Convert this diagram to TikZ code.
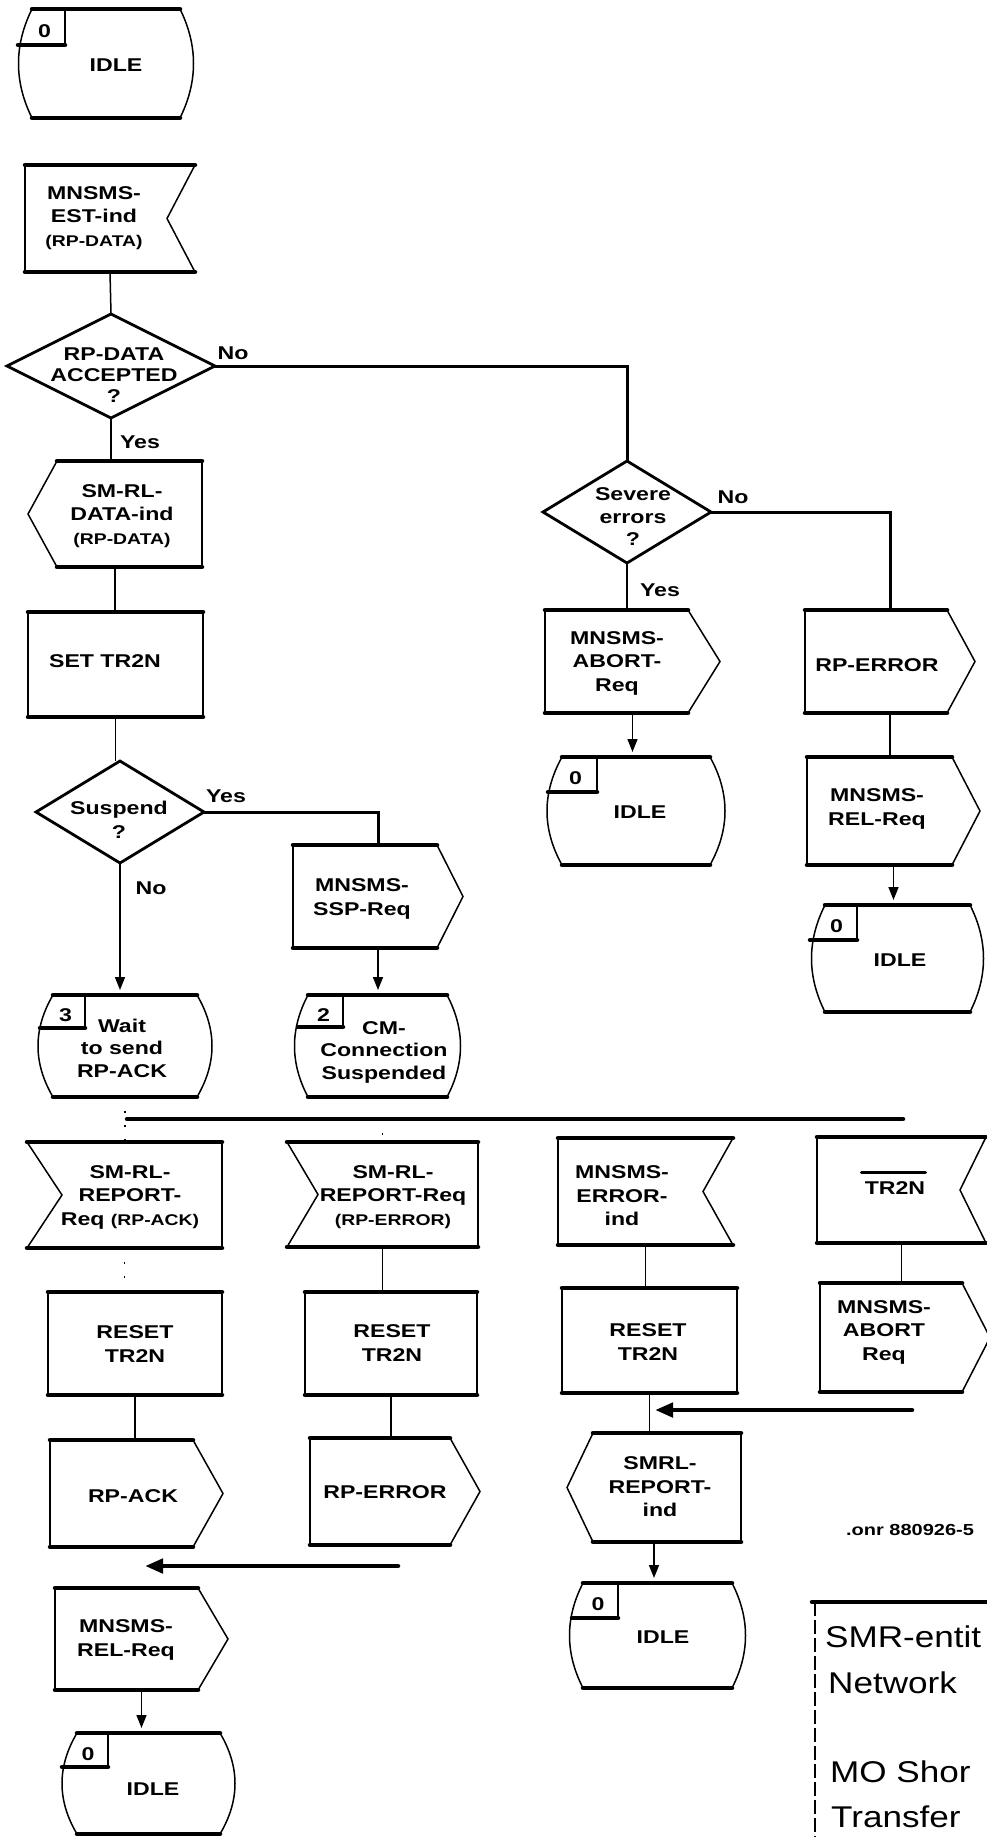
\documentclass[tikz,border=0pt]{standalone}
\usepackage{fontspec}
\usetikzlibrary{arrows.meta}
\newfontfamily\lf[FakeStretch=1.25]{Liberation Sans}
\newfontfamily\tf[FakeStretch=1.17]{Liberation Sans}
\newcommand\smtxt{\fontsize{15.5}{20}\selectfont}
\tikzset{
  edge/.style={line width=4.5pt, line cap=round},
  side/.style={line width=1.5pt},
  conn/.style={line width=1.5pt},
  flow/.style={line width=4.5pt, line cap=round},
  flowb/.style={line width=3pt},
  dotsline/.style={line width=1.5pt, dash pattern=on 2pt off 12pt},
  dia/.style={line width=2.8pt, line join=miter},
  arr/.style={-{Triangle[length=13pt,width=10pt]}, shorten >=5pt},
  bigarr/.style={-{Triangle[length=18pt,width=14pt]}},
  lbl/.style={font=\lf\bfseries\fontsize{18.5}{23.5}\selectfont, align=center, inner sep=0pt},
  ttl/.style={font=\tf\fontsize{30}{38}\selectfont, anchor=base west, inner sep=0pt},
}
% state symbol: name xl xr yt yb bulge
\newcommand\StateSym[6]{%
  \draw[side] (#2,#4) .. controls ({#2-#6},{#4+(#5-#4)/3}) and ({#2-#6},{#5-(#5-#4)/3}) .. (#2,#5);
  \draw[side] (#3,#4) .. controls ({#3+#6},{#4+(#5-#4)/3}) and ({#3+#6},{#5-(#5-#4)/3}) .. (#3,#5);
  \draw[edge] (#2,#4) -- (#3,#4);
  \draw[edge] (#2,#5) -- (#3,#5);
  \coordinate (#1-t) at ({(#2+#3)/2},#4);
  \coordinate (#1-b) at ({(#2+#3)/2},#5);}
% number box: name xs xb yt yline num
\newcommand\NumBox[6]{%
  \draw[edge] (#2,#5) -- (#3,#5);
  \draw[side] (#3,#4) -- (#3,#5);
  \node[lbl] (#1) at ({(#2+#3)/2+3},{(#4+#5)/2+4}) {#6};}
% task: name xl xr yt yb
\newcommand\TaskSym[5]{%
  \draw[side] (#2,#4) -- (#2,#5) (#3,#4) -- (#3,#5);
  \draw[edge] (#2,#4) -- (#3,#4) (#2,#5) -- (#3,#5);
  \coordinate (#1-t) at ({(#2+#3)/2},#4);
  \coordinate (#1-b) at ({(#2+#3)/2},#5);}
% output pointing right: name xl xr xp yt yb
\newcommand\OutR[6]{%
  \draw[side] (#2,#5) -- (#2,#6);
  \draw[side] (#3,#5) -- (#4,{(#5+#6)/2}) -- (#3,#6);
  \draw[edge] (#2,#5) -- (#3,#5) (#2,#6) -- (#3,#6);
  \coordinate (#1-t) at ({(#2+#4)/2},#5);
  \coordinate (#1-b) at ({(#2+#4)/2},#6);}
% output pointing left: name xp xl xr yt yb
\newcommand\OutL[6]{%
  \draw[side] (#4,#5) -- (#4,#6);
  \draw[side] (#3,#5) -- (#2,{(#5+#6)/2}) -- (#3,#6);
  \draw[edge] (#3,#5) -- (#4,#5) (#3,#6) -- (#4,#6);
  \coordinate (#1-t) at ({(#2+#4)/2},#5);
  \coordinate (#1-b) at ({(#2+#4)/2},#6);}
% input, notch on right: name xl xn xr yt yb
\newcommand\InR[6]{%
  \draw[side] (#2,#5) -- (#2,#6);
  \draw[side] (#4,#5) -- (#3,{(#5+#6)/2}) -- (#4,#6);
  \draw[edge] (#2,#5) -- (#4,#5) (#2,#6) -- (#4,#6);
  \coordinate (#1-t) at ({(#2+#4)/2},#5);
  \coordinate (#1-b) at ({(#2+#4)/2},#6);}
% input, notch on left: name xl xn xr yt yb
\newcommand\InL[6]{%
  \draw[side] (#4,#5) -- (#4,#6);
  \draw[side] (#2,#5) -- (#3,{(#5+#6)/2}) -- (#2,#6);
  \draw[edge] (#2,#5) -- (#4,#5) (#2,#6) -- (#4,#6);
  \coordinate (#1-t) at ({(#2+#4)/2},#5);
  \coordinate (#1-b) at ({(#2+#4)/2},#6);}
% decision: name cx cy hw hh
\newcommand\Dia[5]{%
  \draw[dia] ({#2-#4},#3) -- (#2,{#3-#5}) -- ({#2+#4},#3) -- (#2,{#3+#5}) -- cycle;
  \coordinate (#1-t) at (#2,{#3-#5});
  \coordinate (#1-b) at (#2,{#3+#5});
  \coordinate (#1-l) at ({#2-#4},#3);
  \coordinate (#1-r) at ({#2+#4},#3);}

\begin{document}
\begin{tikzpicture}[x=1pt,y=-1pt]
\fill[white] (0,0) rectangle (987,1837);
\useasboundingbox (0,0) rectangle (987,1837);
\clip (0,0) rectangle (987,1837);

% ---------- column 1 top ----------
\StateSym{s0}{32}{180}{9}{118}{18}
\NumBox{n-s0}{18}{65}{9}{45}{0}
\node[lbl] (t-s0) at (116,65) {IDLE};

\InR{est}{25}{167}{195}{165}{272}
\node[lbl] (t-est) at (94,218) {MNSMS-\\EST-ind\\{\smtxt (RP-DATA)}};

\Dia{d1}{111}{366}{104}{52}
\node[lbl, font=\lf\bfseries\fontsize{18.5}{21}\selectfont] (t-d1) at (114,375) {RP-DATA\\ACCEPTED\\?};
\node[lbl] (l-no1) at (233,353) {No};
\node[lbl] (l-yes1) at (140,442) {Yes};

\OutL{data}{28}{57}{202}{461}{567}
\node[lbl] (t-data) at (122,516) {SM-RL-\\DATA-ind\\{\smtxt (RP-DATA)}};

\TaskSym{set}{28}{203}{612}{717}
\node[lbl] (t-set) at (105,661) {SET TR2N};

\Dia{d2}{120}{812}{84}{51}
\node[lbl, font=\lf\bfseries\fontsize{18.5}{24}\selectfont] (t-d2) at (119,820) {Suspend\\?};
\node[lbl] (l-yes2) at (226,796) {Yes};
\node[lbl] (l-no2) at (151,888) {No};

\OutR{ssp}{293}{437}{463}{845}{948}
\node[lbl] (t-ssp) at (362,899) {MNSMS-\\SSP-Req};

\StateSym{s2}{308}{447}{995}{1097}{18}
\NumBox{n-s2}{298}{343}{995}{1027}{2}
\node[lbl, font=\lf\bfseries\fontsize{18.5}{22.5}\selectfont] (t-s2) at (384,1052) {CM-\\Connection\\Suspended};

\StateSym{s3}{53}{197}{995}{1097}{20}
\NumBox{n-s3}{40}{85}{995}{1028}{3}
\node[lbl, font=\lf\bfseries\fontsize{18.5}{22.5}\selectfont] (t-s3) at (122,1048) {Wait\\to send\\RP-ACK};

% ---------- column 3/4 top ----------
\Dia{d3}{627}{512}{84}{51}
\node[lbl, font=\lf\bfseries\fontsize{18.5}{22.5}\selectfont] (t-d3) at (633,517) {Severe\\errors\\?};
\node[lbl] (l-no3) at (733,497) {No};
\node[lbl] (l-yes3) at (660,590) {Yes};

\OutR{ab1}{545}{688}{720}{610}{713}
\node[lbl] (t-ab1) at (617,663) {MNSMS-\\ABORT-\\Req};

\OutR{err1}{805}{947}{975}{610}{713}
\node[lbl] (t-err1) at (877,665) {RP-ERROR};

\StateSym{sm}{562}{710}{757}{865}{20}
\NumBox{n-sm}{548}{597}{757}{792}{0}
\node[lbl] (t-sm) at (640,812) {IDLE};

\OutR{rel2}{807}{952}{980}{757}{865}
\node[lbl] (t-rel2) at (877,809) {MNSMS-\\REL-Req};

\StateSym{sr}{825}{970}{905}{1012}{18}
\NumBox{n-sr}{810}{857}{905}{940}{0}
\node[lbl] (t-sr) at (900,960) {IDLE};

% ---------- lower part ----------
\coordinate (fl-a) at (127,1119);
\coordinate (fl-b) at (903,1119);

\InL{rack}{27}{62}{222}{1142}{1248}
\node[lbl] (t-rack) at (130,1197) {SM-RL-\\REPORT-\\Req {\smtxt (RP-ACK)}};

\InL{rerr}{287}{318}{478}{1142}{1247}
\node[lbl] (t-rerr) at (393,1197) {SM-RL-\\REPORT-Req\\{\smtxt (RP-ERROR)}};

\InR{merr}{558}{703}{733}{1138}{1245}
\node[lbl] (t-merr) at (622,1196) {MNSMS-\\ERROR-\\ind};

\InR{tr}{817}{960}{986}{1137}{1243}
\node[lbl] (t-tr) at (895,1188) {TR2N};
\draw[edge, line width=3.5pt] (t-tr.north west) ++(-3,-9) coordinate (ov-a) -- (ov-a -| t-tr.north east);

\TaskSym{rst1}{48}{222}{1292}{1395}
\node[lbl] (t-rst1) at (135,1344) {RESET\\TR2N};
\TaskSym{rst2}{305}{477}{1292}{1395}
\node[lbl] (t-rst2) at (392,1343) {RESET\\TR2N};
\TaskSym{rst3}{562}{737}{1288}{1393}
\node[lbl] (t-rst3) at (648,1342) {RESET\\TR2N};

\OutR{ab2}{820}{962}{990}{1283}{1392}
\node[lbl] (t-ab2) at (884,1332) {MNSMS-\\ABORT\\Req};

\OutR{ack}{50}{193}{223}{1440}{1547}
\node[lbl] (t-ack) at (133,1496) {RP-ACK};
\OutR{err2}{310}{450}{480}{1438}{1545}
\node[lbl] (t-err2) at (385,1492) {RP-ERROR};

\coordinate (a2s) at (912,1410);
\coordinate (a2e) at (655,1410);
\OutL{smrl}{567}{593}{741}{1433}{1542}
\node[lbl] (t-smrl) at (660,1487) {SMRL-\\REPORT-\\ind};

\coordinate (a1s) at (398,1566);
\coordinate (a1e) at (145,1566);
\OutR{rel1}{55}{198}{228}{1588}{1690}
\node[lbl] (t-rel1) at (126,1640) {MNSMS-\\REL-Req};

\StateSym{sbl}{77}{220}{1733}{1834}{20}
\NumBox{n-sbl}{62}{108}{1733}{1767}{0}
\node[lbl] (t-sbl) at (153,1789) {IDLE};

\StateSym{sbm}{583}{732}{1583}{1688}{18}
\NumBox{n-sbm}{572}{618}{1583}{1618}{0}
\node[lbl] (t-sbm) at (663,1637) {IDLE};

\node[lbl, font=\lf\bfseries\fontsize{16}{20}\selectfont] (t-id) at (910,1530) {.onr 880926-5};

% title box
\coordinate (tb-a) at (812,1602);
\coordinate (tb-b) at (992,1602);
\coordinate (tb-c) at (815,1840);
\draw[edge] (tb-a) -- (tb-b);
\draw[side, dash pattern=on 14pt off 4pt] (tb-a) ++(3,0) -- (tb-c);
\node[ttl] (tt1) at (825,1647) {SMR-entit};
\node[ttl] (tt2) at (828,1693) {Network};
\node[ttl] (tt3) at (830,1782) {MO Shor};
\node[ttl] (tt4) at (831,1827) {Transfer};

% ---------- connectors ----------
\draw[conn] (est-b) -- (d1-t);
\draw[flowb] (d1-r) -| (d3-t);
\draw[conn] (d1-b) -- (d1-b |- data-t);
\draw[conn] (data-b) -- (data-b |- set-t);
\draw[conn] (set-b) -- (set-b |- d2-t);
\draw[flowb] (d2-r) -| (ssp-t);
\draw[conn, arr] (d2-b) -- (d2-b |- s3-t);
\draw[conn, arr] (ssp-b) -- (ssp-b |- s2-t);
\draw[flowb] (d3-r) -| (err1-t);
\draw[conn] (d3-b) -- (d3-b |- ab1-t);
\draw[conn, arr] (ab1-b) -- (ab1-b |- sm-t);
\draw[conn] (err1-b) -- (err1-b |- rel2-t);
\draw[conn, arr] (rel2-b) -- (rel2-b |- sr-t);

\draw[flow] (fl-a) -- (fl-b);
\draw[dotsline] (s3-b) -- (s3-b |- rack-t);
\draw[dotsline] (rerr-t |- fl-a) -- (rerr-t);
\draw[conn] (rerr-b) -- (rerr-b |- rst2-t);
\draw[conn] (merr-b) -- (merr-b |- rst3-t);
\draw[conn] (tr-b) -- (tr-b |- ab2-t);
\draw[dotsline] (rack-b) -- (rack-b |- rst1-t);
\draw[conn] (rst1-b) -- (rst1-b |- ack-t);
\draw[conn] (rst2-b) -- (rst2-b |- err2-t);
\draw[conn] (rst3-b) -- (rst3-b |- smrl-t);
\draw[flow, bigarr] (a2s) -- (a2e);
\draw[conn, arr] (smrl-b) -- (smrl-b |- sbm-t);
\draw[flow, bigarr] (a1s) -- (a1e);
\draw[conn, arr] (rel1-b) -- (rel1-b |- sbl-t);
\end{tikzpicture}
\end{document}
